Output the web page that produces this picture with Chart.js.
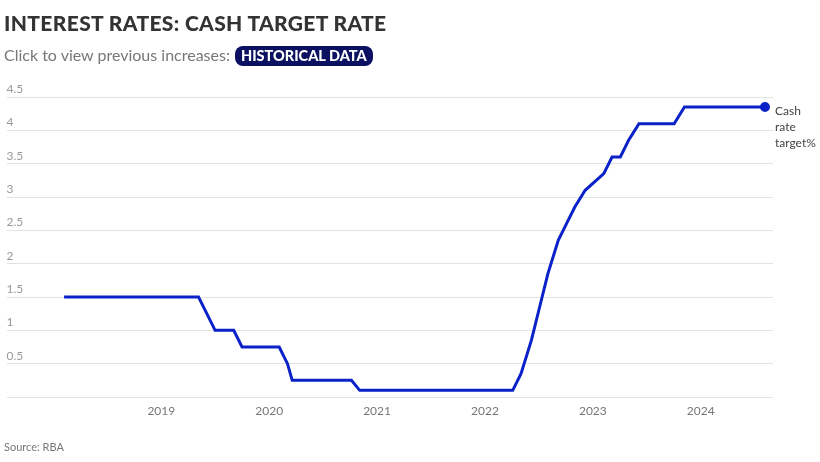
<!DOCTYPE html>
<html>
<head>
<meta charset="utf-8">
<script src="https://cdn.jsdelivr.net/npm/chart.js@4"></script>
<style>
  html, body { margin: 0; padding: 0; background: #fff; }
  body { width: 820px; height: 462px; position: relative; overflow: hidden; font-family: Lato, "Open Sans", sans-serif; }
  #chartWrap { position: absolute; left: 0; top: 0; width: 820px; height: 462px; }
  .title { position: absolute; left: 4px; top: 10px; font-size: 21px; font-weight: 900; color: #333; letter-spacing: 0.35px; white-space: nowrap; }
  .subtitle { position: absolute; left: 4px; top: 45px; font-size: 16px; color: #777; white-space: nowrap; }
  .pill { display: inline-block; background: #0b1160; color: #fff; font-weight: 900; font-size: 14.5px; padding: 1px 6px 1px 6px; border-radius: 8px; margin-left: 1px; line-height: 18px; }
  .source { position: absolute; left: 4px; top: 440px; font-size: 11px; color: #777; }
</style>
</head>
<body>
<div id="chartWrap"><canvas id="rateChart"></canvas></div>
<div class="title">INTEREST RATES: CASH TARGET RATE</div>
<div class="subtitle">Click to view previous increases: <span class="pill">HISTORICAL DATA</span></div>
<div class="source">Source: RBA</div>
<script>
  // RBA board decisions (meeting dates) and the cash rate target after each
  const meetingDates = [
    "2018-02-06", "2019-05-07", "2019-06-04", "2019-07-02", "2019-09-03", "2019-10-01",
    "2020-02-04", "2020-03-03", "2020-03-19", "2020-10-06", "2020-11-03",
    "2022-04-05", "2022-05-03", "2022-06-07", "2022-07-05", "2022-08-02", "2022-09-06",
    "2022-10-04", "2022-11-01", "2022-12-06", "2023-02-07", "2023-03-07", "2023-04-04",
    "2023-05-02", "2023-06-06", "2023-07-04", "2023-10-03", "2023-11-07", "2023-12-05",
    "2024-02-06", "2024-05-07", "2024-08-06",
  ];
  const cashRate = [
    1.5, 1.5, 1.25, 1.0, 1.0, 0.75,
    0.75, 0.5, 0.25, 0.25, 0.1,
    0.1, 0.35, 0.85, 1.35, 1.85, 2.35,
    2.6, 2.85, 3.1, 3.35, 3.6, 3.6,
    3.85, 4.1, 4.1, 4.1, 4.35, 4.35,
    4.35, 4.35, 4.35,
  ];
  const yearTicks = [2019, 2020, 2021, 2022, 2023, 2024];
  const seriesLabel = ["Cash", "rate", "target%"];

  function toYear(dateStr) {
    const [y, m, d] = dateStr.split("-").map(Number);
    const start = Date.UTC(y, 0, 1);
    const end = Date.UTC(y + 1, 0, 1);
    return y + (Date.UTC(y, m - 1, d) - start) / (end - start);
  }

  const points = meetingDates.map((d, i) => ({ x: toYear(d), y: cashRate[i] }));
  const lastIndex = points.length - 1;
  const lineColor = "#0b22c8";

  const endLabel = {
    id: "endLabel",
    afterDatasetsDraw(chart) {
      const pt = chart.getDatasetMeta(0).data[lastIndex];
      const ctx = chart.ctx;
      ctx.save();
      ctx.font = "12px Lato, 'Open Sans', sans-serif";
      ctx.fillStyle = "#444";
      ctx.textAlign = "left";
      ctx.textBaseline = "middle";
      seriesLabel.forEach((word, i) => ctx.fillText(word, pt.x + 10, pt.y + 4 + i * 16));
      ctx.restore();
    },
  };

  new Chart(document.getElementById("rateChart"), {
    type: "line",
    data: {
      datasets: [
        {
          label: "Cash rate target%",
          data: points,
          borderColor: lineColor,
          backgroundColor: lineColor,
          borderWidth: 3,
          tension: 0,
          pointRadius: (c) => (c.dataIndex === lastIndex ? 3.5 : 0),
          pointHoverRadius: 0,
        },
      ],
    },
    options: {
      responsive: true,
      maintainAspectRatio: false,
      animation: false,
      layout: { padding: { left: 4, right: 47, top: 97, bottom: 0 } },
      plugins: {
        legend: { display: false },
        tooltip: { enabled: false },
      },
      scales: {
        x: {
          type: "linear",
          min: 2017.565,
          max: 2024.67,
          afterBuildTicks: (s) => {
            s.ticks = yearTicks.map((v) => ({ value: v }));
          },
          afterFit: (s) => {
            s.height = 65;
          },
          grid: { display: false, drawTicks: false },
          border: { display: false },
          ticks: {
            padding: 7,
            color: "#777",
            font: { family: "Lato, 'Open Sans', sans-serif", size: 12 },
            callback: (v) => String(v),
            maxRotation: 0,
          },
        },
        y: {
          min: 0,
          max: 4.5,
          afterFit: (s) => {
            s.width = 0;
          },
          grid: { color: "#e3e3e3", lineWidth: 1, drawTicks: false },
          border: { display: false },
          ticks: {
            stepSize: 0.5,
            mirror: true,
            padding: 0,
            labelOffset: -8,
            color: "#999",
            font: { family: "Lato, 'Open Sans', sans-serif", size: 12 },
            callback: (v) => (v === 0 ? "" : String(v)),
          },
        },
      },
    },
    plugins: [endLabel],
  });
</script>
</body>
</html>
